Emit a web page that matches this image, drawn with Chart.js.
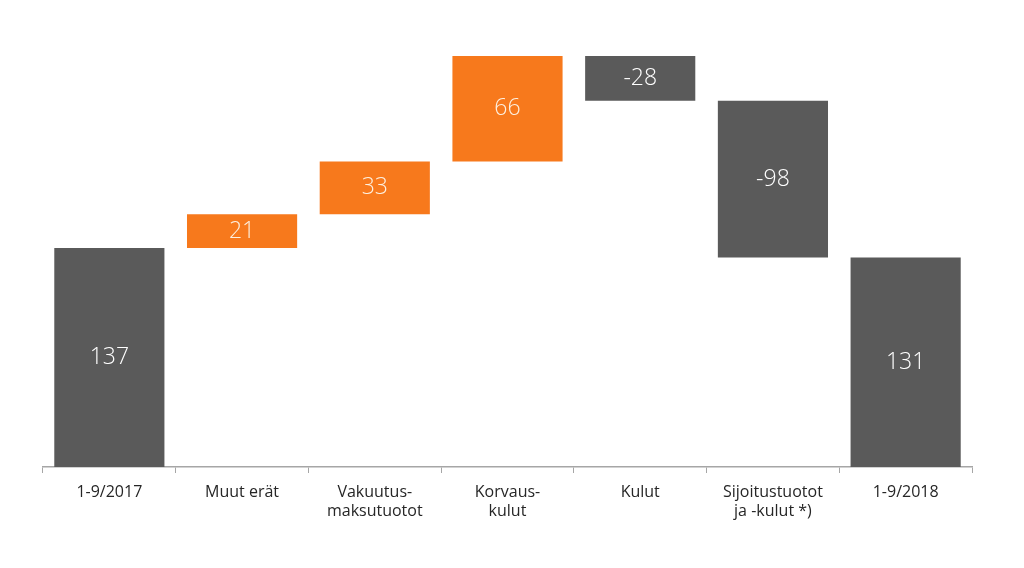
<!DOCTYPE html>
<html>
<head>
<meta charset="utf-8">
<script src="https://cdn.jsdelivr.net/npm/chart.js@4/dist/chart.umd.min.js"></script>
<style>
    html, body { margin: 0; padding: 0; background: #ffffff; }
    #wrap { width: 1024px; height: 568px; }
</style>
</head>
<body>
<div id="wrap"><canvas id="chart"></canvas></div>
<script>
// Category labels (multi-line where the original wraps)
const categories = [
    '1-9/2017',
    'Muut erät',
    ['Vakuutus-', 'maksutuotot'],
    ['Korvaus-', 'kulut'],
    'Kulut',
    ['Sijoitustuotot', 'ja -kulut *)'],
    '1-9/2018'
];

// Changes shown on each bar; first and last are totals
const changes = [137, 21, 33, 66, -28, -98, 131];
const isTotal = [true, false, false, false, false, false, true];

const gray = '#5a5a5a';
const orange = '#f7791c';

// Build floating ranges for the waterfall
const ranges = [];
let running = 0;
changes.forEach((v, i) => {
    if (isTotal[i]) {
        ranges.push([0, v]);
        running = v;
    } else {
        ranges.push([running, running + v]);
        running += v;
    }
});

const barColors = changes.map((v, i) => (isTotal[i] || v < 0) ? gray : orange);

// Draw the value text in the middle of each bar
const valueLabels = {
    id: 'valueLabels',
    afterDatasetsDraw(chart) {
        const ctx = chart.ctx;
        const meta = chart.getDatasetMeta(0);
        ctx.save();
        ctx.font = '300 23px "Open Sans", sans-serif';
        ctx.textAlign = 'center';
        ctx.textBaseline = 'middle';
        meta.data.forEach((bar, i) => {
            const p = bar.getProps(['x', 'y', 'base'], true);
            ctx.fillStyle = barColors[i] === orange ? '#fdf0e0' : '#ffffff';
            ctx.fillText(String(changes[i]), p.x, (p.y + p.base) / 2);
        });
        ctx.restore();
    }
};

new Chart(document.getElementById('chart').getContext('2d'), {
    type: 'bar',
    data: {
        labels: categories,
        datasets: [{
            data: ranges,
            backgroundColor: barColors,
            borderWidth: 0,
            borderSkipped: false,
            categoryPercentage: 1.0,
            barPercentage: 0.83
        }]
    },
    options: {
        responsive: true,
        maintainAspectRatio: false,
        animation: false,
        layout: { padding: { left: 43, right: 52, top: 0, bottom: 0 } },
        plugins: {
            legend: { display: false },
            tooltip: { enabled: false }
        },
        scales: {
            x: {
                grid: {
                    display: true,
                    drawOnChartArea: false,
                    drawTicks: true,
                    tickLength: 6,
                    tickColor: '#a6a6a6',
                    offset: true
                },
                border: { display: true, color: '#a6a6a6', width: 1.5 },
                ticks: {
                    color: '#262626',
                    font: { family: '"Open Sans", sans-serif', size: 16 },
                    padding: 10,
                    maxRotation: 0,
                    autoSkip: false
                },
                afterFit(scale) {
                    scale.height = 101;
                }
            },
            y: {
                display: false,
                min: 0,
                max: 292
            }
        }
    },
    plugins: [valueLabels]
});
</script>
</body>
</html>
